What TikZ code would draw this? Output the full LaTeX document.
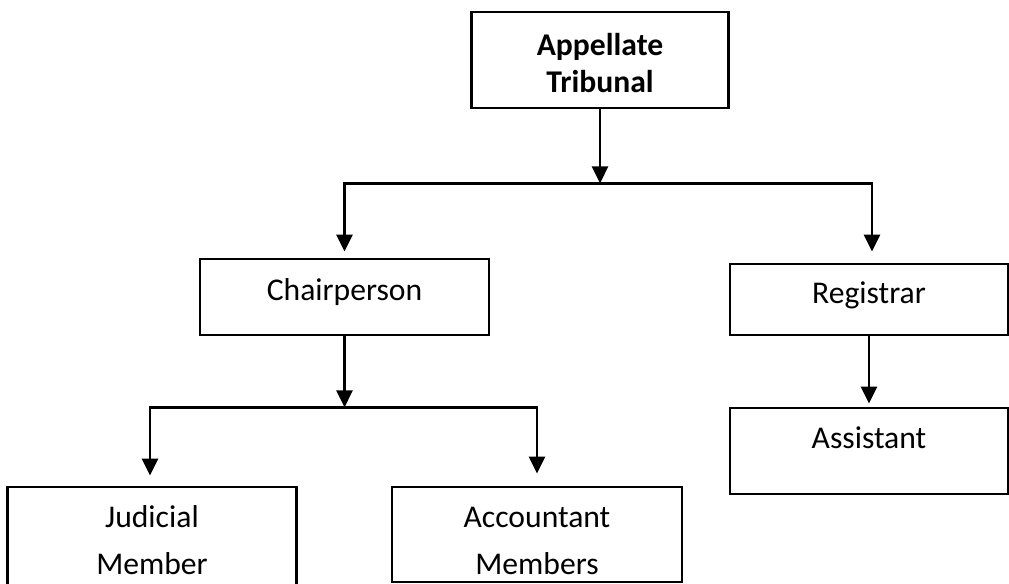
\documentclass[tikz,border=0pt]{standalone}
\usepackage{fontspec}
\setmainfont{Carlito}
\usetikzlibrary{arrows.meta,positioning}
\tikzstyle{box}=[draw,rectangle,line width=1.6pt,inner sep=0pt,
  font=\fontsize{18}{21}\selectfont,align=center]
\tikzstyle{wide}=[box,minimum width=5.78cm,minimum height=1.52cm,
  text height=.4cm,text depth=.25cm]
\tikzstyle{tall}=[box,minimum width=5.78cm,font=\fontsize{18}{27}\selectfont]
\tikzstyle{link}=[line width=1.6pt]

\begin{document}
\begin{tikzpicture}[>={Triangle[width=.32cm,length=.34cm]}, on grid]
  \useasboundingbox (0,0) rectangle (20.18,-11.66);
  \node[box, minimum width=5.14cm, minimum height=1.92cm,
    text height=1.4cm, text depth=.12cm,
    font=\bfseries\fontsize{18}{21}\selectfont] (trib) at (12,-1.2)
    {Appellate\\Tribunal};
  \node[wide, below left=4.74cm and 5.11cm of trib] (chair) {Chairperson};
  \node[wide, minimum width=5.56cm, minimum height=1.42cm,
    below right=4.79cm and 5.38cm of trib] (reg) {Registrar};
  \node[wide, minimum width=5.56cm, minimum height=1.72cm,
    text depth=.52cm, below=3.03cm of reg] (asst) {Assistant};
  \node[tall, minimum height=2.26cm, text height=1.36cm, text depth=.12cm,
    below left=4.93cm and 3.85cm of chair] (jud) {Judicial\\Member};
  \node[tall, minimum width=5.8cm, minimum height=1.9cm, text height=1.66cm,
    text depth=.06cm, below right=4.75cm and 3.85cm of chair] (acc)
    {Accountant\\Members};

  \coordinate[below=1.48cm of trib.south] (bus1);
  \coordinate[below=1.42cm of chair.south] (bus2);
  \draw[link,->] (trib) -- (bus1);
  \draw[link,->] (bus1) -| ([yshift=.12cm]chair.north);
  \draw[link,->] (bus1) -| ([xshift=.06cm,yshift=.22cm]reg.north);
  \draw[link,->] (chair) -- (bus2);
  \draw[link,->] (bus2) -| ([xshift=-.04cm,yshift=.2cm]jud.north);
  \draw[link,->] (bus2) -| ([yshift=.24cm]acc.north);
  \draw[link,->] (reg) -- ([yshift=.06cm]asst.north);
\end{tikzpicture}
\end{document}
